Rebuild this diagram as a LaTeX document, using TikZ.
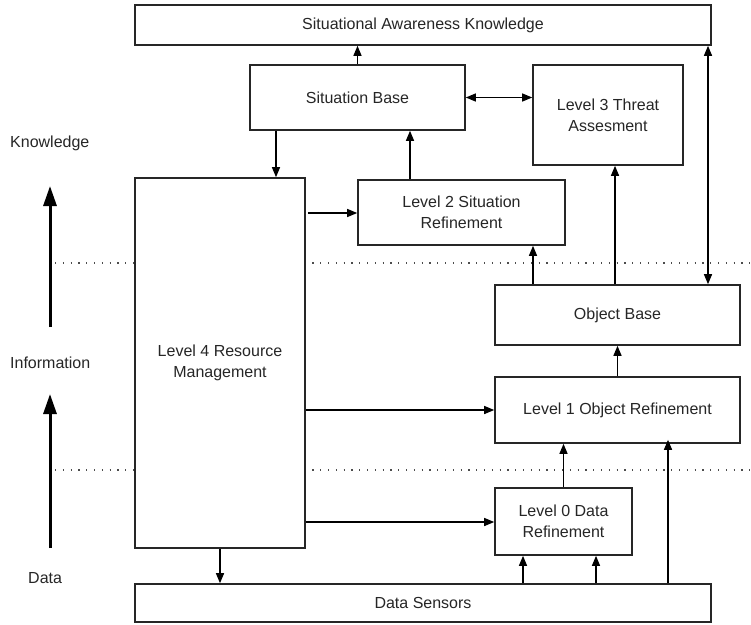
\documentclass[tikz,border=0pt]{standalone}
\usepackage{fontspec}
\setmainfont{Liberation Sans}
\usetikzlibrary{arrows.meta}
\begin{document}
\begin{tikzpicture}[x=1pt,y=-1pt,
  box/.style={draw=black!85,line width=1.6pt,fill=white,inner sep=2pt,align=center,
    font=\fontsize{16}{21}\selectfont,text=black!85},
  arr/.style={line width=1.3pt,-{Triangle[length=10pt,width=8pt]}},
  darr/.style={line width=1.3pt,{Triangle[length=10pt,width=8pt]}-{Triangle[length=10pt,width=8pt]}},
  bigarr/.style={line width=3pt,-{Triangle[length=20pt,width=13pt]}},
  sep/.style={line width=1.2pt,black!70,dash pattern=on 1.2pt off 6.6pt},
  lbl/.style={font=\fontsize{16}{20}\selectfont,text=black!85,anchor=west,inner sep=0pt}]
\useasboundingbox (0,0) rectangle (751,624);
% separators
\coordinate (s1l) at (55,263); \coordinate (s1r) at (751,263);
\coordinate (s2l) at (55,470); \coordinate (s2r) at (751,470);
\draw[sep] (s1l) -- (s1r);
\draw[sep] (s2l) -- (s2r);
% boxes
\node[box,minimum width=576pt,minimum height=40pt] (sak) at (423,25) {Situational Awareness Knowledge};
\node[box,minimum width=215pt,minimum height=65pt] (sb) at (357.5,97.5) {Situation Base};
\node[box,minimum width=150pt,minimum height=100pt] (l3) at (608,115) {Level 3 Threat\\Assesment};
\node[box,minimum width=207pt,minimum height=65pt] (l2) at (461.5,212.5) {Level 2 Situation\\Refinement};
\node[box,minimum width=170pt,minimum height=370pt] (l4) at (220,363) {Level 4 Resource\\Management};
\node[box,minimum width=245pt,minimum height=60pt] (ob) at (617.5,315) {Object Base};
\node[box,minimum width=245pt,minimum height=66pt] (l1) at (617.5,410) {Level 1 Object Refinement};
\node[box,minimum width=137pt,minimum height=67pt] (l0) at (563.5,521.5) {Level 0 Data\\Refinement};
\node[box,minimum width=576pt,minimum height=38pt] (ds) at (423,603) {Data Sensors};
% helper x positions
\coordinate (x276) at (276,0);
\coordinate (x410) at (410,0);
\coordinate (x533) at (533,0);
\coordinate (x615) at (615,0);
\coordinate (x708) at (708,0);
\coordinate (x668) at (668,0);
\coordinate (x523) at (523,0);
\coordinate (x596) at (596,0);
\coordinate (y213) at (0,213);
\coordinate (y410) at (0,410);
\coordinate (y522) at (0,522);
% connectors
\draw[arr] (sb.north) -- (sak.south -| sb.north);
\draw[arr] (sb.south -| x276) -- (l4.north -| x276);
\draw[arr] (l2.north -| x410) -- (sb.south -| x410);
\draw[darr] (sb.east) -- (l3.west |- sb.east);
\draw[arr] (ob.north -| x615) -- (l3.south -| x615);
\draw[darr] (ob.north -| x708) -- (sak.south -| x708);
\draw[arr] (ob.north -| x533) -- (l2.south -| x533);
\draw[arr] ([xshift=2pt]l4.east |- y213) -- (l2.west |- y213);
\draw[arr] (l1.north) -- (ob.south);
\draw[arr] (l4.east |- y410) -- (l1.west |- y410);
\draw[arr] (l4.east |- y522) -- (l0.west |- y522);
\draw[arr] (l0.north) -- (l0.north |- l1.south);
\draw[arr] (ds.north -| x668) -- ([yshift=4pt]l1.south -| x668);
\draw[arr] (ds.north -| x523) -- (l0.south -| x523);
\draw[arr] (ds.north -| x596) -- (l0.south -| x596);
\draw[arr] (l4.south) -- (ds.north -| l4.south);
% left scale
\node[lbl] (kn) at (10,143) {Knowledge};
\node[lbl] (inf) at (10,363) {Information};
\node[lbl] (dat) at (28,578) {Data};
\coordinate (a1s) at (50,327); \coordinate (a1e) at (50,186);
\coordinate (a2s) at (50,548); \coordinate (a2e) at (50,394);
\draw[bigarr] (a1s) -- (a1e);
\draw[bigarr] (a2s) -- (a2e);
\end{tikzpicture}
\end{document}
